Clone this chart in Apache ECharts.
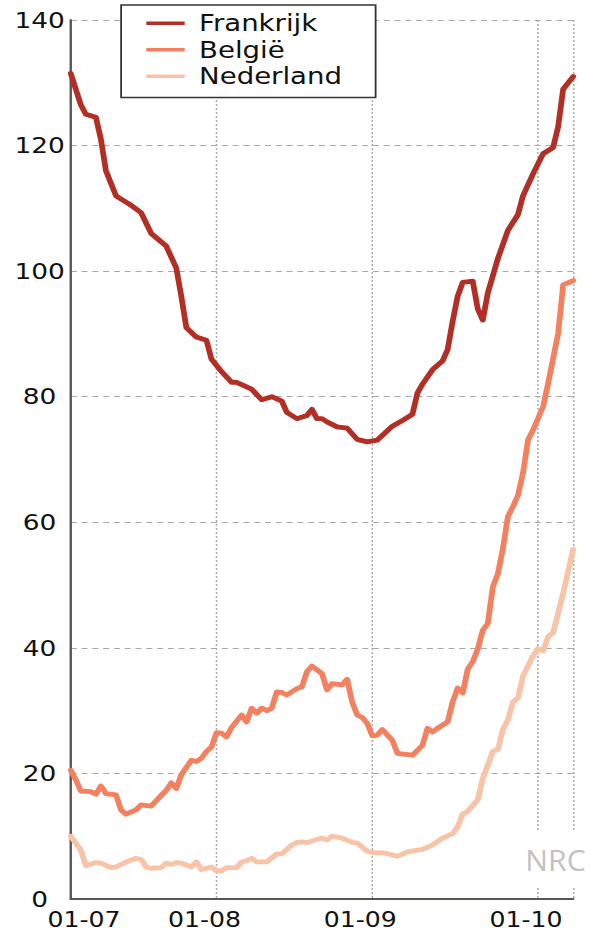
<!DOCTYPE html>
<html>
<head>
<meta charset="utf-8">
<script src="https://cdn.jsdelivr.net/npm/echarts@6/dist/echarts.min.js"></script>
<style>
  html, body { margin: 0; padding: 0; background: #fff; overflow: hidden; }
  #main { width: 492px; height: 935px; transform: scaleX(1.1992); transform-origin: 0 0; }
</style>
</head>
<body>
<div id="main"></div>
<script>
// x positions are sample numbers (0..100) along the time axis
const SAMPLES = 101;
const tickIndex = [0, 29, 60, 93];
const tickLabels = ["01-07", "01-08", "01-09", "01-10"];
const gridIndex = [29, 60, 93, 100];

const frankrijk = [
  [0, 131.5], [2, 126.5], [3, 125], [5, 124.5], [6, 121], [7, 116], [9, 112], [11, 111],
  [12, 110.5], [14, 109.3], [16, 106], [19, 104], [21, 100.5], [22, 96], [23, 91], [25, 89.5],
  [27, 89], [28, 86], [30, 84], [32, 82.3], [33, 82.3], [36, 81.2], [38, 79.5], [40, 80],
  [42, 79.3], [43, 77.5], [45, 76.5], [47, 77], [48, 78], [49, 76.5], [50, 76.5], [51, 76],
  [53, 75.2], [55, 75], [57, 73.2], [59, 72.8], [61, 73.1], [64, 75.3], [66, 76.2], [68, 77.2],
  [69, 80.6], [70, 82], [72, 84.3], [74, 85.7], [75, 87.5], [76, 92], [77, 96], [78, 98.2],
  [80, 98.4], [81, 94], [82, 92.2], [83, 96.5], [85, 102], [87, 106.5], [89, 109], [90, 112],
  [92, 115.5], [94, 118.7], [96, 119.7], [97, 123], [98, 129], [100, 131]
];

const belgie = [
  [0, 20.5], [1, 19], [2, 17.2], [4, 17.1], [5, 16.7], [6, 18], [7, 16.8], [9, 16.6],
  [10, 14.2], [11, 13.5], [13, 14.2], [14, 15], [16, 14.8], [18, 16.5], [19, 17.3], [20, 18.5],
  [21, 17.6], [22, 19.8], [24, 22.1], [25, 21.9], [26, 22.4], [27, 23.5], [28, 24.2], [29, 26.5],
  [30, 26.4], [31, 25.8], [32, 27.3], [34, 29.3], [35, 28.2], [36, 30.4], [37, 29.6], [38, 30.4],
  [39, 30], [40, 30.4], [41, 33], [42, 32.9], [43, 32.5], [45, 33.5], [46, 33.8], [47, 36.2],
  [48, 37.1], [50, 35.9], [51, 33.3], [52, 34.3], [54, 34.1], [55, 35], [56, 31.4], [57, 29.3],
  [58, 28.9], [59, 28], [60, 26], [61, 26.1], [62, 27], [64, 25.3], [65, 23.2], [68, 22.9],
  [70, 24.5], [71, 27.2], [72, 26.6], [73, 27.2], [75, 28.2], [76, 31.4], [77, 33.6], [78, 32.8],
  [79, 36.6], [80, 37.8], [81, 39.8], [82, 42.8], [83, 43.9], [84, 49.7], [85, 51.8], [86, 55.8],
  [87, 60.9], [88, 62.5], [89, 64.3], [90, 67.8], [91, 73.1], [92, 74.7], [94, 78.4], [95, 82.1],
  [97, 90.1], [98, 97.8], [100, 98.5]
];

const nederland = [
  [0, 10], [2, 7.8], [3, 5.3], [5, 5.8], [6, 5.7], [8, 5], [9, 5.1], [11, 5.9],
  [13, 6.5], [14, 6.3], [15, 5.1], [16, 4.9], [18, 5], [19, 5.7], [20, 5.5], [21, 5.8],
  [22, 5.7], [24, 5.1], [25, 5.9], [26, 4.7], [28, 5.1], [29, 4.5], [30, 4.5], [31, 5],
  [33, 5], [34, 5.9], [35, 6.1], [36, 6.5], [37, 5.9], [39, 5.9], [41, 7.2], [42, 7.2],
  [44, 8.6], [45, 9], [46, 9.1], [47, 9], [50, 9.7], [51, 9.4], [52, 10], [54, 9.7],
  [56, 9], [57, 8.9], [59, 7.6], [61, 7.3], [62, 7.4], [65, 6.8], [67, 7.5], [70, 7.9],
  [72, 8.6], [74, 9.7], [76, 10.4], [77, 11.5], [78, 13.5], [79, 14], [81, 15.8], [82, 19.2],
  [83, 21.3], [84, 23.5], [85, 23.8], [86, 27], [87, 28.5], [88, 31.4], [89, 32], [90, 35.5],
  [92, 38.7], [93, 39.9], [94, 39.5], [95, 41.8], [96, 42.4], [98, 48.7], [100, 55.7]
];

const FONT = "DejaVu Sans";
const GRID_COLOR = "#a8a8a8";
const TEXT_COLOR = "#111";

let categories = [];
for (let i = 0; i < SAMPLES; i++) {
  let k = tickIndex.indexOf(i);
  categories.push(k >= 0 ? tickLabels[k] : "");
}

let myChart = echarts.init(document.getElementById("main"), null, { renderer: "svg" });

function lineSeries(name, data, color) {
  return {
    name: name,
    type: "line",
    data: data,
    symbol: "none",
    smooth: false,
    lineStyle: { color: color, width: 4.8, join: "round", cap: "round" },
    itemStyle: { color: color },
  };
}

let option = {
  animation: false,
  backgroundColor: "#fff",
  grid: { left: 59, right: 14, top: 20, bottom: 36, containLabel: false },
  legend: {
    orient: "vertical",
    left: 101,
    top: 5,
    padding: [6, 28, 9, 21],
    icon: "rect",
    itemWidth: 32,
    itemHeight: 3.5,
    itemGap: 2,
    selectedMode: false,
    borderColor: "#333",
    borderWidth: 1.5,
    backgroundColor: "#fff",
    textStyle: {
      fontFamily: FONT,
      fontSize: 23,
      lineHeight: 24.5,
      color: TEXT_COLOR,
      padding: [0, 0, 0, 7],
    },
    data: ["Frankrijk", "België", "Nederland"],
  },
  xAxis: {
    type: "category",
    data: categories,
    boundaryGap: false,
    axisLine: { lineStyle: { color: "#5c5650", width: 2 } },
    axisTick: { show: false },
    axisLabel: {
      interval: (i) => tickIndex.includes(i),
      formatter: (value, i) => (i === 0 ? `{first|${value}}` : `{rest|${value}}`),
      fontFamily: FONT,
      fontSize: 21,
      color: TEXT_COLOR,
      margin: 10,
      rich: {
        first: { fontFamily: FONT, fontSize: 21, color: TEXT_COLOR, padding: [0, 0, 0, 22] },
        rest: { fontFamily: FONT, fontSize: 21, color: TEXT_COLOR, padding: [0, 20, 0, 0] },
      },
    },
    splitLine: {
      show: true,
      interval: (i) => gridIndex.includes(i),
      lineStyle: { color: GRID_COLOR, type: [2, 2], width: 1.2 },
    },
  },
  yAxis: {
    type: "value",
    min: 0,
    max: 140,
    interval: 20,
    axisLine: { show: true, lineStyle: { color: "#5c5650", width: 2 } },
    axisTick: { show: false },
    axisLabel: {
      fontFamily: FONT,
      fontSize: 22,
      color: TEXT_COLOR,
      align: "center",
      margin: 26,
    },
    splitLine: { lineStyle: { color: GRID_COLOR, type: [5, 4], width: 1.2 } },
  },
  graphic: [
    {
      // white patch behind the NRC mark, it interrupts the gridlines
      type: "rect",
      z: 10,
      shape: { x: 433, y: 832, width: 60, height: 56 },
      style: { fill: "#fff" },
    },
    {
      type: "text",
      z: 11,
      x: 438,
      y: 845,
      scaleX: 0.84,
      style: {
        text: "NRC",
        fontFamily: "Open Sans",
        fontSize: 30,
        fill: "#c2c2c2",
        textVerticalAlign: "top",
        verticalAlign: "top",
      },
    },
  ],
  series: [
    lineSeries("Frankrijk", frankrijk, "#b32f25"),
    lineSeries("België", belgie, "#f5805f"),
    lineSeries("Nederland", nederland, "#f8c3a6"),
  ],
};

option && myChart.setOption(option);
</script>
</body>
</html>
